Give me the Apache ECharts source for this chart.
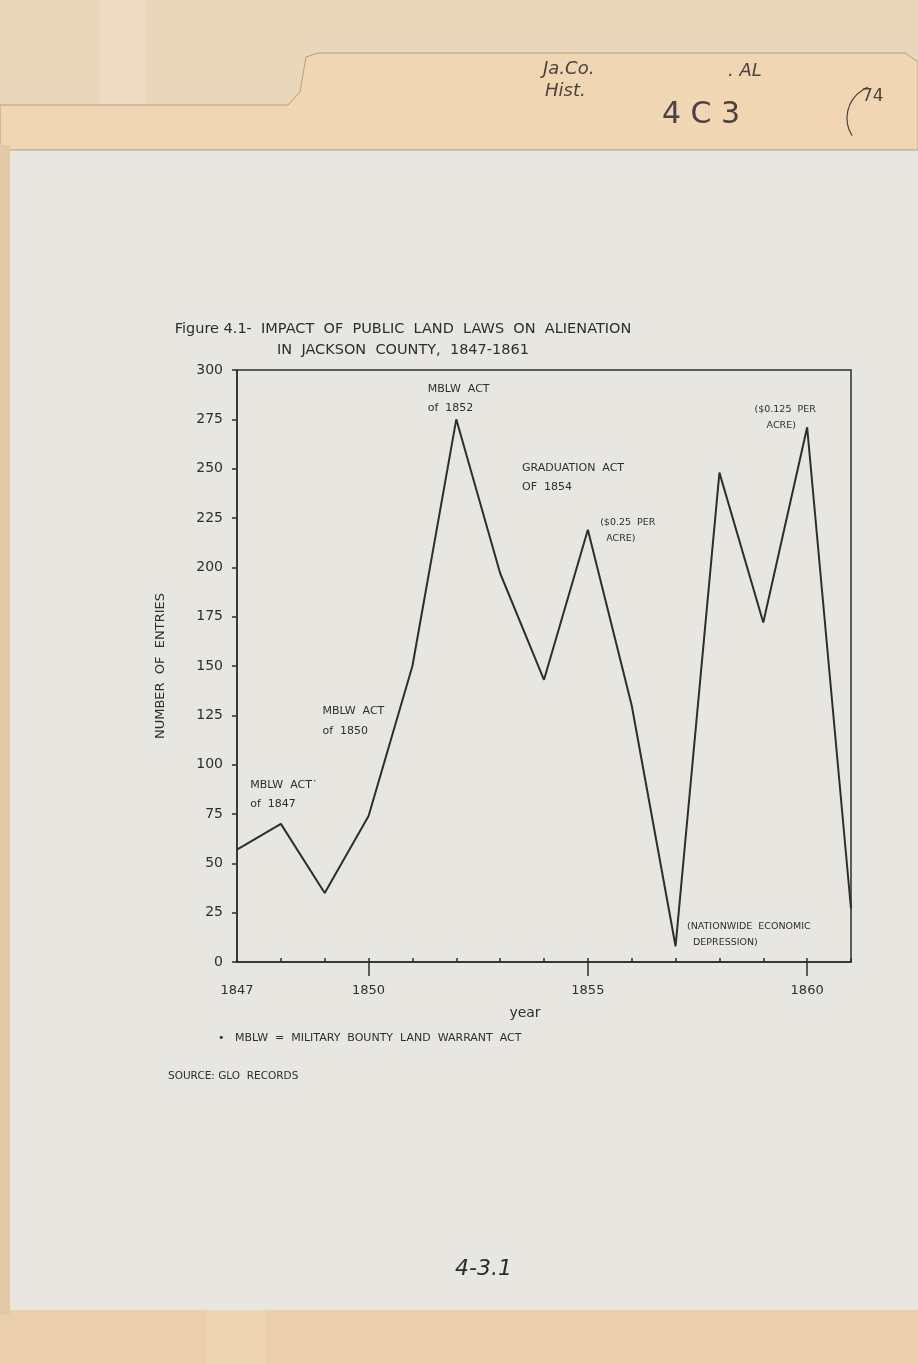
<!DOCTYPE html>
<html>
<head>
<meta charset="utf-8">
<script src="https://cdn.jsdelivr.net/npm/echarts@6/dist/echarts.min.js"></script>
<style>
  html, body { margin: 0; padding: 0; background: #e7e6e0; }
  #dom { width: 918px; height: 1364px; }
</style>
</head>
<body>
<div id="dom"></div>
<script>
// entries per year
const years = [1847, 1848, 1849, 1850, 1851, 1852, 1853, 1854, 1855, 1856, 1857, 1858, 1859, 1860, 1861]
const entries = [57, 70, 35, 74, 150, 275, 197, 143, 219, 130, 8, 248, 172, 271, 27]

const yearLabels = [1847, 1850, 1855, 1860]
const majorTicks = [1850, 1855, 1860]

// annotations placed in data coords (year, entries)
const noteX = [1847.3, 1848.95, 1851.35, 1853.5, 1855.28, 1858.8, 1857.26]
const noteY = [85, 122, 285.5, 245.5, 218.6, 276, 14]
const noteText = [
    'MBLW  ACT\u02D9\nof  1847',
    'MBLW  ACT\nof  1850',
    'MBLW  ACT\nof  1852',
    'GRADUATION  ACT\nOF  1854',
    '($0.25  PER\n  ACRE)',
    '($0.125  PER\n    ACRE)',
    '(NATIONWIDE  ECONOMIC\n  DEPRESSION)'
]
const noteSize = [11, 11, 11, 11, 9.5, 9.5, 9.5]

const ink = '#2e2e2c'
const font = 'DejaVu Sans'

let chart = echarts.init(document.getElementById('dom'))

const option = {
    animation: false,
    backgroundColor: '#e7e6e0',
    title: {
        text: 'Figure 4.1-  IMPACT  OF  PUBLIC  LAND  LAWS  ON  ALIENATION\nIN  JACKSON  COUNTY,  1847-1861',
        left: 398,
        top: 314,
        textAlign: 'center',
        textStyle: {
            fontFamily: font,
            fontWeight: 'normal',
            fontSize: 14.5,
            lineHeight: 21,
            color: ink
        }
    },
    grid: {
        left: 237,
        right: 67,
        top: 370,
        bottom: 402,
        show: true,
        borderColor: ink,
        borderWidth: 1.5,
        backgroundColor: 'transparent'
    },
    xAxis: [
        {
            type: 'value',
            min: 1847,
            max: 1861,
            interval: 1,
            name: 'year',
            nameLocation: 'middle',
            nameGap: 44,
            nameTextStyle: { fontFamily: font, fontSize: 14, color: ink, padding: [0, 38, 0, 0] },
            axisLine: { show: true, lineStyle: { color: ink, width: 1.5 } },
            axisTick: { show: true, inside: true, length: 4, lineStyle: { color: ink, width: 1.5 } },
            axisLabel: {
                customValues: yearLabels,
                margin: 22,
                fontFamily: font,
                fontSize: 13,
                color: ink,
                formatter: v => String(v)
            },
            splitLine: { show: false }
        },
        {
            type: 'value',
            min: 1847,
            max: 1861,
            position: 'bottom',
            axisLine: { show: false },
            axisTick: { show: true, customValues: majorTicks, length: 14, lineStyle: { color: ink, width: 1.5 } },
            axisLabel: { show: false },
            splitLine: { show: false }
        }
    ],
    yAxis: {
        type: 'value',
        min: 0,
        max: 300,
        interval: 25,
        name: 'NUMBER  OF  ENTRIES',
        nameLocation: 'middle',
        nameGap: 70,
        nameRotate: 90,
        nameTextStyle: { fontFamily: font, fontSize: 13, color: ink },
        axisLine: { show: true, lineStyle: { color: ink, width: 1.5 } },
        axisTick: { show: true, length: 5, lineStyle: { color: ink, width: 1.5 } },
        axisLabel: { margin: 14, fontFamily: font, fontSize: 14, color: ink },
        splitLine: { show: false }
    },
    series: [
        {
            name: 'entries',
            type: 'line',
            data: years.map((y, i) => [y, entries[i]]),
            showSymbol: false,
            lineStyle: { color: ink, width: 2 },
            z: 3
        },
        {
            name: 'notes',
            type: 'scatter',
            symbolSize: 0,
            silent: true,
            itemStyle: { opacity: 1 },
            data: noteX.map((x, i) => ({
                value: [x, noteY[i]],
                label: {
                    show: true,
                    position: [0, 0],
                    align: 'left',
                    verticalAlign: 'middle',
                    formatter: noteText[i],
                    fontFamily: font,
                    fontSize: noteSize[i],
                    lineHeight: noteSize[i] * 1.75,
                    color: ink,
                    opacity: 1
                }
            }))
        }
    ],
    graphic: [
        // folder behind the page
        { type: 'rect', z: -10, shape: { x: 0, y: 0, width: 918, height: 150 }, style: { fill: '#ead6bb' } },
        { type: 'rect', z: -10, shape: { x: 100, y: 0, width: 45, height: 105 }, style: { fill: '#eddbc2' } },
        {
            type: 'polygon', z: -9,
            shape: { points: [[0, 105], [288, 105], [300, 92], [306, 57], [318, 53], [905, 53], [918, 62], [918, 150], [0, 150]] },
            style: { fill: '#f0d6b2', stroke: '#b59d80', lineWidth: 1 }
        },
        { type: 'rect', z: -8, shape: { x: 0, y: 1310, width: 918, height: 54 }, style: { fill: '#eccfad' } },
        { type: 'rect', z: -8, shape: { x: 207, y: 1310, width: 58, height: 54 }, style: { fill: '#efd4b4' } },
        { type: 'rect', z: -8, shape: { x: 0, y: 145, width: 10, height: 1170 }, style: { fill: '#e2c9a8' } },
        // handwriting on the tab
        { type: 'text', left: 543, top: 60, style: { text: 'Ja.Co.', font: 'italic 18px "DejaVu Sans"', fill: '#4a4340' } },
        { type: 'text', left: 545, top: 82, style: { text: 'Hist.', font: 'italic 18px "DejaVu Sans"', fill: '#4a4340' } },
        { type: 'text', left: 728, top: 62, style: { text: '. AL', font: 'italic 18px "DejaVu Sans"', fill: '#4a4340' } },
        { type: 'text', left: 662, top: 100, style: { text: '4 C 3', font: '30px "DejaVu Sans"', fill: '#4a4340' } },
        { type: 'text', left: 862, top: 88, style: { text: '74', font: '17px "DejaVu Sans"', fill: '#4a4340' } },
        { type: 'arc', shape: { cx: 880, cy: 118, r: 33, startAngle: Math.PI * 0.82, endAngle: Math.PI * 1.38 }, style: { stroke: '#4a4340', lineWidth: 1.2, fill: 'none' } },
        // notes under the chart
        { type: 'text', left: 218, top: 1033, style: { text: '\u2022   MBLW  =  MILITARY  BOUNTY  LAND  WARRANT  ACT', font: '11px "DejaVu Sans"', fill: ink } },
        { type: 'text', left: 168, top: 1071, style: { text: 'SOURCE: GLO  RECORDS', font: '10.5px "DejaVu Sans"', fill: ink } },
        { type: 'text', left: 455, top: 1258, style: { text: '4-3.1', font: 'italic 22px "DejaVu Sans"', fill: '#2a2a2a' } }
    ]
}

chart.setOption(option, true)
</script>
</body>
</html>
